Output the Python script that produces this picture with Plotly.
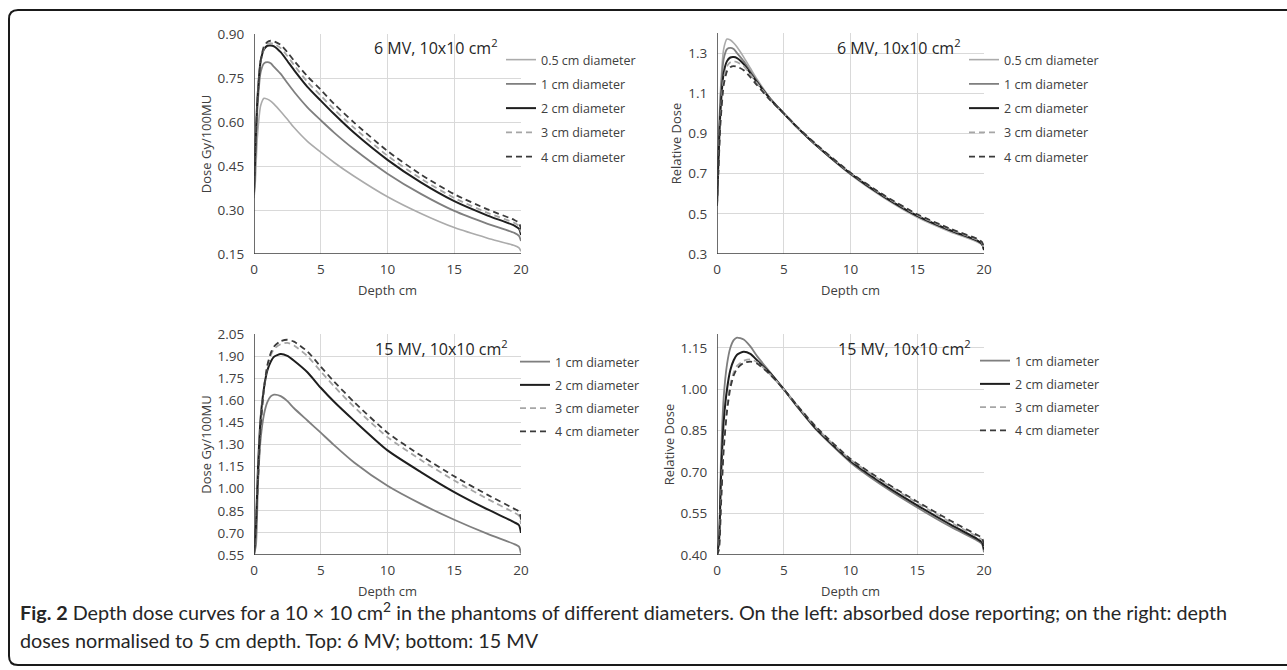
import plotly.graph_objects as go

W, H = 1287, 670

# ---------------- data ----------------
depth6 = [0, 0.1, 0.25, 0.5, 0.75, 1, 1.25, 1.5, 2, 2.5, 3, 4, 5, 6, 7.5, 10, 12.5, 15, 17.5, 19.5, 19.85, 20]
depth15 = [0, 0.15, 0.3, 0.5, 0.75, 1, 1.25, 1.5, 2, 2.5, 3, 4, 5, 6, 7.5, 10, 12.5, 15, 17.5, 19.5, 19.85, 20]

# 6 MV absolute dose (Gy/100MU)
abs6_05 = [0.34, 0.398, 0.547, 0.656, 0.681, 0.678, 0.671, 0.661, 0.636, 0.609, 0.581, 0.534, 0.497, 0.462, 0.415, 0.345, 0.288, 0.240, 0.204, 0.179, 0.171, 0.159]
abs6_1 = [0.35, 0.473, 0.642, 0.770, 0.800, 0.804, 0.800, 0.788, 0.764, 0.733, 0.703, 0.650, 0.606, 0.564, 0.507, 0.424, 0.355, 0.297, 0.253, 0.222, 0.212, 0.194]
abs6_2 = [0.36, 0.505, 0.673, 0.808, 0.848, 0.860, 0.861, 0.858, 0.838, 0.808, 0.777, 0.720, 0.673, 0.627, 0.563, 0.471, 0.394, 0.330, 0.281, 0.247, 0.236, 0.215]
abs6_3 = [0.36, 0.497, 0.669, 0.807, 0.852, 0.866, 0.869, 0.866, 0.852, 0.825, 0.794, 0.737, 0.690, 0.643, 0.580, 0.485, 0.407, 0.341, 0.290, 0.256, 0.245, 0.224]
abs6_4 = [0.36, 0.497, 0.667, 0.809, 0.859, 0.873, 0.877, 0.875, 0.863, 0.838, 0.809, 0.756, 0.710, 0.662, 0.598, 0.501, 0.421, 0.354, 0.302, 0.266, 0.256, 0.234]

# 6 MV relative dose (normalised to 5 cm)
rel6_05 = [0.54, 0.80, 1.10, 1.32, 1.37, 1.365, 1.35, 1.33, 1.28, 1.225, 1.17, 1.075, 1.0, 0.930, 0.835, 0.695, 0.580, 0.483, 0.410, 0.360, 0.345, 0.320]
rel6_1 = [0.54, 0.78, 1.06, 1.27, 1.32, 1.326, 1.32, 1.30, 1.26, 1.21, 1.16, 1.072, 1.0, 0.931, 0.837, 0.700, 0.586, 0.490, 0.417, 0.367, 0.350, 0.320]
rel6_2 = [0.54, 0.75, 1.00, 1.20, 1.26, 1.278, 1.28, 1.275, 1.245, 1.20, 1.155, 1.07, 1.0, 0.931, 0.837, 0.700, 0.586, 0.490, 0.417, 0.367, 0.350, 0.320]
rel6_3 = [0.54, 0.72, 0.97, 1.17, 1.235, 1.255, 1.26, 1.255, 1.235, 1.195, 1.15, 1.068, 1.0, 0.932, 0.840, 0.703, 0.590, 0.494, 0.421, 0.371, 0.355, 0.325]
rel6_4 = [0.54, 0.70, 0.94, 1.14, 1.21, 1.23, 1.235, 1.232, 1.215, 1.18, 1.14, 1.065, 1.0, 0.933, 0.842, 0.705, 0.593, 0.498, 0.425, 0.375, 0.360, 0.330]

# 15 MV absolute dose (Gy/100MU)
abs15_1 = [0.55, 0.62, 1.035, 1.339, 1.504, 1.587, 1.626, 1.638, 1.628, 1.594, 1.546, 1.463, 1.38, 1.296, 1.178, 1.020, 0.897, 0.789, 0.693, 0.624, 0.607, 0.56]
abs15_2 = [0.55, 0.76, 1.146, 1.483, 1.685, 1.803, 1.862, 1.896, 1.914, 1.901, 1.868, 1.790, 1.685, 1.590, 1.462, 1.260, 1.113, 0.977, 0.859, 0.772, 0.752, 0.70]
abs15_3 = [0.55, 0.77, 1.078, 1.437, 1.688, 1.832, 1.904, 1.949, 1.981, 1.990, 1.972, 1.900, 1.796, 1.695, 1.555, 1.350, 1.195, 1.056, 0.930, 0.837, 0.817, 0.76]
abs15_4 = [0.55, 0.77, 1.060, 1.426, 1.682, 1.837, 1.919, 1.965, 2.002, 2.011, 1.998, 1.932, 1.828, 1.727, 1.588, 1.380, 1.225, 1.084, 0.958, 0.863, 0.845, 0.79]

# 15 MV relative dose (normalised to 5 cm)
rel15_1 = [0.40, 0.45, 0.75, 0.97, 1.09, 1.15, 1.178, 1.187, 1.18, 1.155, 1.12, 1.06, 1.0, 0.937, 0.850, 0.735, 0.648, 0.572, 0.502, 0.452, 0.440, 0.410]
rel15_2 = [0.40, 0.45, 0.68, 0.88, 1.00, 1.07, 1.105, 1.125, 1.136, 1.128, 1.105, 1.057, 1.0, 0.939, 0.853, 0.740, 0.655, 0.580, 0.510, 0.458, 0.446, 0.420]
rel15_3 = [0.40, 0.43, 0.60, 0.80, 0.94, 1.02, 1.06, 1.085, 1.103, 1.108, 1.098, 1.053, 1.0, 0.941, 0.857, 0.745, 0.662, 0.588, 0.518, 0.466, 0.455, 0.430]
rel15_4 = [0.40, 0.42, 0.58, 0.78, 0.92, 1.005, 1.05, 1.075, 1.095, 1.10, 1.093, 1.052, 1.0, 0.942, 0.860, 0.748, 0.666, 0.593, 0.524, 0.472, 0.462, 0.435]

names6 = ["0.5 cm diameter", "1 cm diameter", "2 cm diameter", "3 cm diameter", "4 cm diameter"]
names15 = ["1 cm diameter", "2 cm diameter", "3 cm diameter", "4 cm diameter"]

x_ticks = [0, 5, 10, 15, 20]
y_ticks_tl = [0.15, 0.30, 0.45, 0.60, 0.75, 0.90]
y_ticks_tr = [0.3, 0.5, 0.7, 0.9, 1.1, 1.3]
y_ticks_bl = [0.55, 0.70, 0.85, 1.00, 1.15, 1.30, 1.45, 1.60, 1.75, 1.90, 2.05]
y_ticks_br = [0.40, 0.55, 0.70, 0.85, 1.00, 1.15]

panel_titles = ["6 MV, 10x10 cm<sup>2</sup>", "6 MV, 10x10 cm<sup>2</sup>",
                "15 MV, 10x10 cm<sup>2</sup>", "15 MV, 10x10 cm<sup>2</sup>"]

# ---------------- styles ----------------
style = {
    "0.5 cm diameter": dict(color="#ababab", width=1.6, dash="solid"),
    "1 cm diameter": dict(color="#7f7f7f", width=1.8, dash="solid"),
    "2 cm diameter": dict(color="#1e1e1e", width=2.0, dash="solid"),
    "3 cm diameter": dict(color="#a6a6a6", width=1.8, dash="6px,4px"),
    "4 cm diameter": dict(color="#3a3a3a", width=1.8, dash="6px,4px"),
}

FONT = "Open Sans"
TXT = "#404040"

def px_x(p):
    return p / W

def px_y(p):
    return 1 - p / H

fig = go.Figure()

panels = [
    ("", (254, 521), (34, 254), [abs6_05, abs6_1, abs6_2, abs6_3, abs6_4], depth6, names6, "legend", (501, 45), 5),
    ("2", (717, 984), (33, 254), [rel6_05, rel6_1, rel6_2, rel6_3, rel6_4], depth6, names6, "legend2", (964, 45), 5),
    ("3", (254, 521), (334, 555), [abs15_1, abs15_2, abs15_3, abs15_4], depth15, names15, "legend3", (515, 347), 4),
    ("4", (717, 984), (334, 555), [rel15_1, rel15_2, rel15_3, rel15_4], depth15, names15, "legend4", (975, 346), 4),
]

for (sfx, xr, yr, series, xs, names, leg, lpos, gap) in panels:
    for i, (ys, nm) in enumerate(zip(series, names)):
        st = style[nm]
        fig.add_trace(go.Scatter(
            x=xs, y=ys, name=nm, mode="lines",
            line=dict(color=st["color"], width=st["width"], dash=st["dash"], shape="spline", smoothing=0.6),
            xaxis="x" + sfx, yaxis="y" + sfx, legend=leg, legendgroup=leg + str(i),
            showlegend=True, hoverinfo="skip",
        ))

axis_common = dict(
    showgrid=True, gridcolor="#d9d9d9", gridwidth=1, zeroline=False, automargin=False,
    showline=False, ticks="outside", tickcolor="rgba(0,0,0,0)",
    tickfont=dict(family=FONT, size=13.5, color=TXT),
)

yinfo = [
    ("", [0.15, 0.90], y_ticks_tl, ".2f", "Dose Gy/100MU"),
    ("2", [0.3, 1.4], y_ticks_tr, ".1f", "Relative Dose"),
    ("3", [0.55, 2.05], y_ticks_bl, ".2f", "Dose Gy/100MU"),
    ("4", [0.40, 1.20], y_ticks_br, ".2f", "Relative Dose"),
]

layout = dict(
    width=W, height=H, margin=dict(l=0, r=0, t=0, b=0, autoexpand=False),
    paper_bgcolor="white", plot_bgcolor="white",
    showlegend=True,
)

for (sfx, xr, yr, *_r), (ysfx, yrange, yt, yfmt, ytitle) in zip(panels, yinfo):
    xa = dict(axis_common)
    xa.update(domain=[px_x(xr[0]), px_x(xr[1])], range=[0, 20], tickvals=x_ticks, ticklen=3,
              anchor="y" + sfx, title=dict(text="Depth cm", font=dict(family=FONT, size=13, color=TXT), standoff=8))
    ya = dict(axis_common)
    ya.update(domain=[px_y(yr[1]), px_y(yr[0])], range=yrange, tickvals=yt, tickformat=yfmt, ticklen=6,
              anchor="x" + sfx, title=dict(text=ytitle, font=dict(family=FONT, size=13, color=TXT), standoff=3))
    layout["xaxis" + sfx] = xa
    layout["yaxis" + sfx] = ya

for (sfx, xr, yr, series, xs, names, leg, lpos, gap) in panels:
    layout[leg] = dict(
        x=px_x(lpos[0]), y=px_y(lpos[1]), xanchor="left", yanchor="top",
        bgcolor="rgba(0,0,0,0)", borderwidth=0, itemwidth=30,
        font=dict(family=FONT, size=12.5, color=TXT), tracegroupgap=gap,
        itemclick=False, itemdoubleclick=False,
    )

fig.update_layout(**layout)

for (sfx, xr, yr, *_r), (ysfx, yrange, yt, yfmt, ytitle) in zip(panels, yinfo):
    xref = "x" + sfx
    yref = "y" + sfx
    fig.add_shape(type="line", xref=xref, yref=yref, x0=0, x1=0, y0=yrange[0], y1=yrange[1],
                  line=dict(color="#3c3c3c", width=1.5))
    fig.add_shape(type="line", xref=xref, yref=yref, x0=0, x1=20, y0=yrange[0], y1=yrange[0],
                  line=dict(color="#3c3c3c", width=1.5))

title_pos = [(500, 47), (963, 47), (510, 348), (973, 348)]
for (tx, ty), t in zip(title_pos, panel_titles):
    fig.add_annotation(x=px_x(tx), y=px_y(ty), xref="paper", yref="paper", text=t, showarrow=False,
                       xanchor="right", yanchor="middle", font=dict(family=FONT, size=16, color="#262626"))

cap1 = ("<b>Fig. 2</b> Depth dose curves for a 10 × 10 cm<sup>2</sup> in the phantoms of different diameters. "
        "On the left: absorbed dose reporting; on the right: depth")
cap2 = "doses normalised to 5 cm depth. Top: 6 MV; bottom: 15 MV"
fig.add_annotation(x=px_x(18), y=px_y(611), xref="paper", yref="paper", text=cap1, showarrow=False,
                   xanchor="left", yanchor="middle", font=dict(family="Lato", size=19.8, color="#262626"))
fig.add_annotation(x=px_x(18), y=px_y(640), xref="paper", yref="paper", text=cap2, showarrow=False,
                   xanchor="left", yanchor="middle", font=dict(family="Lato", size=19.8, color="#262626"))

x0, y0, x1, y1, r = 9, 10, 1300, 665, 9
path = (f"M {px_x(x1)},{px_y(y0)} L {px_x(x0 + r)},{px_y(y0)} Q {px_x(x0)},{px_y(y0)} {px_x(x0)},{px_y(y0 + r)} "
        f"L {px_x(x0)},{px_y(y1 - r)} Q {px_x(x0)},{px_y(y1)} {px_x(x0 + r)},{px_y(y1)} L {px_x(x1)},{px_y(y1)}")
fig.add_shape(type="path", path=path, xref="paper", yref="paper", line=dict(color="#1a1a1a", width=2))

fig.write_html("out.html", config={"displayModeBar": False},
               post_script="document.body.style.margin='0';document.body.style.overflow='hidden';")
